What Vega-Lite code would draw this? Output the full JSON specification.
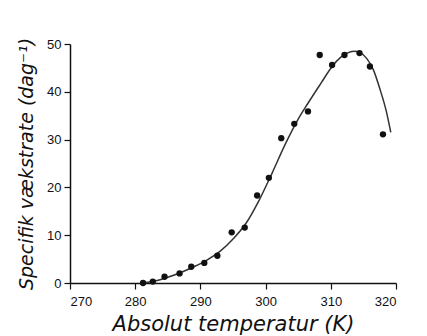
{
  "$schema": "https://vega.github.io/schema/vega-lite/v6.json",
  "width": 326,
  "height": 239,
  "autosize": {"type": "none"},
  "padding": {"left": 70, "top": 44, "right": 31, "bottom": 53},
  "background": "white",
  "config": {
    "view": {"stroke": null},
    "axis": {
      "grid": false,
      "domainColor": "#111",
      "domainWidth": 1.5,
      "tickColor": "#111",
      "tickWidth": 1.2,
      "tickSize": 6,
      "labelColor": "#111",
      "labelFont": "Liberation Sans",
      "labelFontSize": 13,
      "titleFont": "DejaVu Sans",
      "titleFontStyle": "italic",
      "titleFontWeight": "normal",
      "titleColor": "#111"
    }
  },
  "datasets": {
    "points": [
      {"T": 281.2, "rate": 0.0},
      {"T": 282.7, "rate": 0.3},
      {"T": 284.5, "rate": 1.3},
      {"T": 286.8, "rate": 2.0},
      {"T": 288.6, "rate": 3.4},
      {"T": 290.6, "rate": 4.2},
      {"T": 292.6, "rate": 5.7},
      {"T": 294.8, "rate": 10.6},
      {"T": 296.8, "rate": 11.6},
      {"T": 298.7, "rate": 18.3},
      {"T": 300.5, "rate": 22.0},
      {"T": 302.4, "rate": 30.3},
      {"T": 304.4, "rate": 33.3},
      {"T": 306.5, "rate": 35.9},
      {"T": 308.3, "rate": 47.7},
      {"T": 310.2, "rate": 45.6},
      {"T": 312.1, "rate": 47.7},
      {"T": 314.4, "rate": 48.1},
      {"T": 316.0, "rate": 45.3},
      {"T": 318.0, "rate": 31.1}
    ],
    "curve": [
      {"T": 281.0, "rate": 0.0},
      {"T": 283.0, "rate": 0.4},
      {"T": 285.0, "rate": 1.2},
      {"T": 287.0, "rate": 2.2},
      {"T": 289.0, "rate": 3.4},
      {"T": 291.0, "rate": 4.8},
      {"T": 293.0, "rate": 6.6},
      {"T": 295.0, "rate": 9.2},
      {"T": 297.0, "rate": 12.5},
      {"T": 299.0, "rate": 17.3},
      {"T": 301.0, "rate": 23.0},
      {"T": 303.0, "rate": 29.0},
      {"T": 305.0, "rate": 34.3},
      {"T": 306.5, "rate": 37.6},
      {"T": 308.5, "rate": 41.8},
      {"T": 310.2, "rate": 45.3},
      {"T": 311.5, "rate": 47.2},
      {"T": 312.5, "rate": 48.1},
      {"T": 313.5, "rate": 48.5},
      {"T": 314.5, "rate": 48.2},
      {"T": 315.5, "rate": 47.0},
      {"T": 316.5, "rate": 44.7},
      {"T": 317.6, "rate": 40.3},
      {"T": 318.5, "rate": 36.0},
      {"T": 319.2, "rate": 31.5}
    ]
  },
  "encoding": {
    "x": {
      "field": "T",
      "type": "quantitative",
      "scale": {"domain": [270, 320], "nice": false, "zero": false},
      "axis": {
        "title": "Absolut temperatur (K)",
        "titleFontSize": 21,
        "titlePadding": 5,
        "labelPadding": 6,
        "values": [270, 280, 290, 300, 310, 320],
        "format": "d"
      }
    },
    "y": {
      "field": "rate",
      "type": "quantitative",
      "scale": {"domain": [0, 50], "nice": false},
      "axis": {
        "title": "Specifik vækstrate (dag⁻¹)",
        "titleFontSize": 19,
        "titlePadding": 10,
        "labelPadding": 3,
        "values": [0, 10, 20, 30, 40, 50]
      }
    }
  },
  "layer": [
    {
      "data": {"name": "curve"},
      "mark": {"type": "line", "interpolate": "monotone", "color": "#333", "strokeWidth": 1.5}
    },
    {
      "data": {"name": "points"},
      "mark": {"type": "circle", "size": 40, "color": "#111", "opacity": 1}
    }
  ]
}
